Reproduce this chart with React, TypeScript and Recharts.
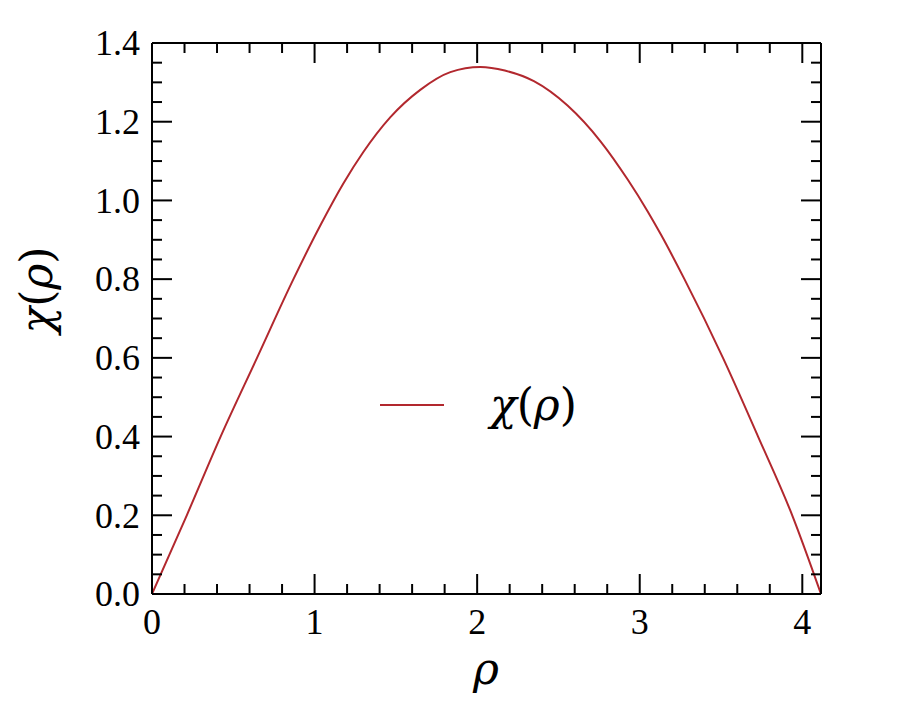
import { LineChart, Line, XAxis, YAxis } from "recharts";

// values
const rhoValues = [
  0, 0.214, 0.422, 0.646, 0.87, 1.04, 1.177, 1.3, 1.465, 1.65, 1.835, 2.02,
  2.17, 2.349, 2.556, 2.761, 2.926, 3.049, 3.132, 3.275, 3.512, 3.728, 3.938, 4.115,
];
const chiValues = [
  0, 0.2, 0.4, 0.6, 0.8, 0.94, 1.043, 1.123, 1.211, 1.281, 1.326, 1.339,
  1.33, 1.303, 1.241, 1.149, 1.053, 0.972, 0.912, 0.8, 0.6, 0.4, 0.2, 0,
];

const xTicks = [
  0, 0.2, 0.4, 0.6, 0.8, 1, 1.2, 1.4, 1.6, 1.8, 2, 2.2, 2.4, 2.6, 2.8, 3, 3.2,
  3.4, 3.6, 3.8, 4,
];
const yTicks = [
  0, 0.05, 0.1, 0.15, 0.2, 0.25, 0.3, 0.35, 0.4, 0.45, 0.5, 0.55, 0.6, 0.65,
  0.7, 0.75, 0.8, 0.85, 0.9, 0.95, 1, 1.05, 1.1, 1.15, 1.2, 1.25, 1.3, 1.35, 1.4,
];

const data = rhoValues.map((rho, i) => ({ rho, chi: chiValues[i] }));

const RED = "#b2282e";
const FONT = "'Liberation Serif', 'DejaVu Serif', serif";
const MATH = "'DejaVu Serif', serif";

const isMajorX = (v: number) => Math.abs(v - Math.round(v)) < 1e-6;
const isMajorY = (v: number) => Math.abs(v * 5 - Math.round(v * 5)) < 1e-6;

const XTick = (props: any) => {
  const { x, y, payload, side } = props;
  const major = isMajorX(payload.value);
  const len = major ? 20 : 10;
  const dir = side === "top" ? 1 : -1;
  return (
    <g>
      <line x1={x} y1={y} x2={x} y2={y + dir * len} stroke="#000" strokeWidth={2} />
      {side !== "top" && major && (
        <text x={x} y={y + 40} textAnchor="middle" fontFamily={FONT} style={{ fontSize: 36, fontFamily: FONT }} fill="#000">
          {payload.value}
        </text>
      )}
    </g>
  );
};

const YTick = (props: any) => {
  const { x, y, payload, side } = props;
  const major = isMajorY(payload.value);
  const len = major ? 20 : 10;
  const dir = side === "right" ? -1 : 1;
  return (
    <g>
      <line x1={x} y1={y} x2={x + dir * len} y2={y} stroke="#000" strokeWidth={2} />
      {side !== "right" && major && (
        <text x={x - 12} y={y} dy="0.34em" textAnchor="end" fontFamily={FONT} style={{ fontSize: 36, fontFamily: FONT }} fill="#000">
          {payload.value.toFixed(1)}
        </text>
      )}
    </g>
  );
};

const ChiRho = () => (
  <>
    <tspan fontStyle="italic">χ</tspan>
    <tspan>(</tspan>
    <tspan fontStyle="italic">ρ</tspan>
    <tspan>)</tspan>
  </>
);

const axisLine = { stroke: "#000", strokeWidth: 2 };

export default function App() {
  return (
    <div style={{ position: "relative", width: 917, height: 717 }}>
      <style>{`body{margin:0}`}</style>
      <LineChart
        width={917}
        height={717}
        data={data}
        margin={{ top: 42, right: 95, bottom: 83, left: 92 }}
      >
        <XAxis
          xAxisId="bottom"
          dataKey="rho"
          type="number"
          domain={[0, 4.115]}
          allowDataOverflow
          ticks={xTicks}
          interval={0}
          height={40}
          tickSize={0}
          tickMargin={0}
          tickLine={false}
          axisLine={axisLine}
          tick={<XTick side="bottom" />}
        />
        <XAxis
          xAxisId="top"
          orientation="top"
          dataKey="rho"
          type="number"
          domain={[0, 4.115]}
          allowDataOverflow
          ticks={xTicks}
          interval={0}
          height={1}
          tickSize={0}
          tickMargin={0}
          tickLine={false}
          axisLine={axisLine}
          tick={<XTick side="top" />}
        />
        <YAxis
          yAxisId="left"
          type="number"
          domain={[0, 1.4]}
          allowDataOverflow
          ticks={yTicks}
          interval={0}
          width={60}
          tickSize={0}
          tickMargin={0}
          tickLine={false}
          axisLine={axisLine}
          tick={<YTick side="left" />}
        />
        <YAxis
          yAxisId="right"
          orientation="right"
          type="number"
          domain={[0, 1.4]}
          allowDataOverflow
          ticks={yTicks}
          interval={0}
          width={1}
          tickSize={0}
          tickMargin={0}
          tickLine={false}
          axisLine={axisLine}
          tick={<YTick side="right" />}
        />
        <Line
          xAxisId="bottom"
          yAxisId="left"
          type="monotone"
          dataKey="chi"
          name="χ(ρ)"
          stroke={RED}
          strokeWidth={2}
          dot={false}
          isAnimationActive={false}
        />
        <Line
          xAxisId="top"
          yAxisId="right"
          type="monotone"
          dataKey="chi"
          stroke="none"
          dot={false}
          legendType="none"
          isAnimationActive={false}
        />
      </LineChart>
      <svg
        width={917}
        height={717}
        style={{ position: "absolute", left: 0, top: 0, pointerEvents: "none" }}
      >
        <text
          transform="translate(52 290) rotate(-90)"
          textAnchor="middle"
          fontFamily={MATH}
          style={{ fontSize: 44, fontFamily: MATH }}
          fill="#000"
        >
          <ChiRho />
        </text>
        <text x={486} y={684} textAnchor="middle" fontFamily={MATH} style={{ fontSize: 44, fontStyle: "italic", fontFamily: MATH }} fill="#000">
          ρ
        </text>
        {/* legend */}
        <line x1={380} y1={405} x2={444} y2={405} stroke={RED} strokeWidth={2} />
        <text x={490} y={405} dy="0.33em" fontFamily={MATH} style={{ fontSize: 44, fontFamily: MATH }} fill="#000">
          <ChiRho />
        </text>
      </svg>
    </div>
  );
}
